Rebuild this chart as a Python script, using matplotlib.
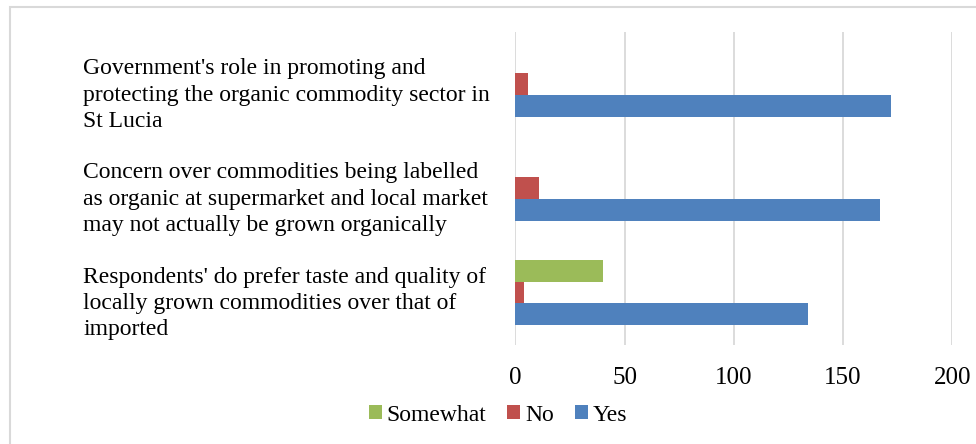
import matplotlib
matplotlib.use("Agg")
import matplotlib.pyplot as plt
import matplotlib.transforms as mtransforms
from matplotlib.patches import Rectangle, Patch
import numpy as np

categories = [
    "Respondents' do prefer taste and quality of\nlocally grown commodities over that of\nimported",
    "Concern over commodities being labelled\nas organic at supermarket and local market\nmay not actually be grown organically",
    "Government's role in promoting and\nprotecting the organic commodity sector in\nSt Lucia",
]
series_names = ["Somewhat", "No", "Yes"]
yes_vals = [134, 167, 172]
no_vals = [4, 11, 6]
somewhat_vals = [40, 0, 0]
x_ticks = [0, 50, 100, 150, 200]

colors = {"Somewhat": "#9BBB59", "No": "#C0504D", "Yes": "#4F81BD"}

plt.rcParams['font.family'] = ['Liberation Serif', 'DejaVu Serif']

W, H, DPI = 976, 444, 100
fig = plt.figure(figsize=(W / DPI, H / DPI), dpi=DPI)

# outer chart border
fig.patches.append(Rectangle((9.5 / W, -0.05), 1.2, (444 - 7 + 0.05 * H) / H,
                             transform=fig.transFigure, fill=False,
                             edgecolor="#d9d9d9", linewidth=1.5))

left, right = 515.3 / W, 952.3 / W
top, bottom = 1 - 32 / H, 1 - 344.5 / H
ax = fig.add_axes([left, bottom, right - left, top - bottom])

y = np.arange(len(categories))
bh = 0.208
ax.barh(y - bh, yes_vals, height=bh, color=colors["Yes"], zorder=3)
ax.barh(y, no_vals, height=bh, color=colors["No"], zorder=3)
ax.barh(y + bh, somewhat_vals, height=bh, color=colors["Somewhat"], zorder=3)

ax.set_xlim(0, 200)
ax.set_ylim(-0.5, len(categories) - 0.5)
ax.set_xticks(x_ticks)
ax.set_xticklabels([str(t) for t in x_ticks], fontsize=18)
ax.set_yticks([])
ax.tick_params(axis='x', length=0, pad=16)
ax.grid(axis='x', color="#d9d9d9", linewidth=1.3, zorder=0)
for s in ax.spines.values():
    s.set_visible(False)

# category labels (left aligned text blocks)
off = mtransforms.ScaledTranslation(0, -11 / DPI, fig.dpi_scale_trans)
trans = mtransforms.blended_transform_factory(fig.transFigure, ax.transData) + off
for yi, lab in zip(y, categories):
    ax.text(83 / W, yi, lab, transform=trans, ha='left', va='center',
            fontsize=17, linespacing=1.33, multialignment='left')

handles = [Patch(facecolor=colors[n], edgecolor='none', label=n) for n in series_names]
fig.legend(handles=handles, loc='center', bbox_to_anchor=(498 / W, 1 - 415 / H),
           ncol=3, frameon=False, fontsize=17, handlelength=0.55, handleheight=0.55,
           handletextpad=0.2, columnspacing=0.9, borderpad=0)

fig.savefig("out.png", dpi=DPI)
